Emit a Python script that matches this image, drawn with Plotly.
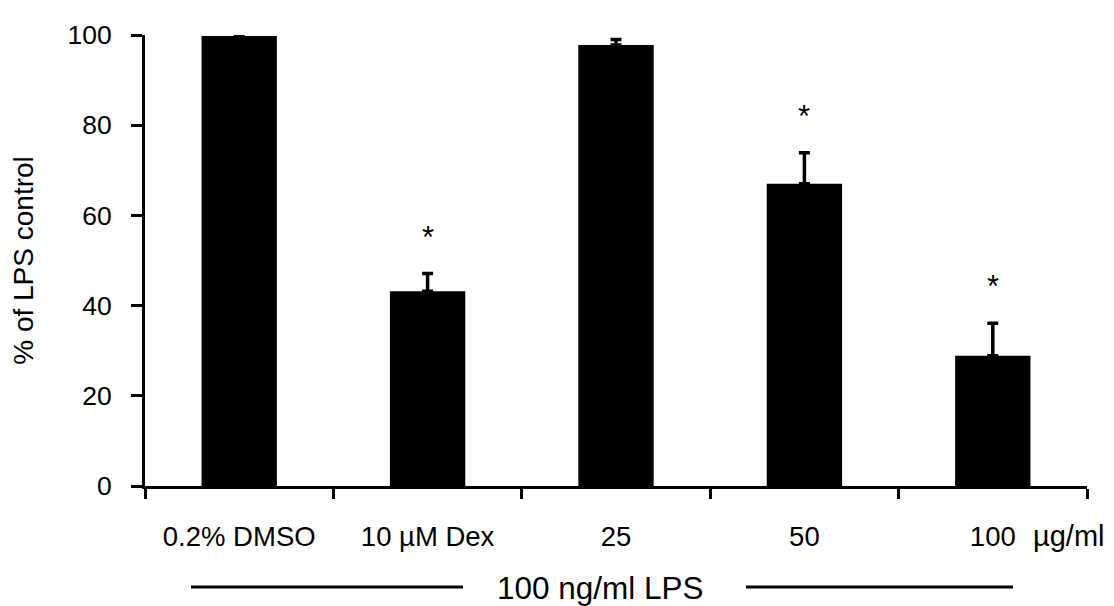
import plotly.graph_objects as go

categories = ["0.2% DMSO", "10 µM Dex", "25", "50", "100"]
values = [99.8, 43.2, 97.8, 67.0, 28.9]
errors = [0.2, 3.9, 1.2, 6.9, 7.2]
significant = [False, True, False, True, True]
y_ticks = [0, 20, 40, 60, 80, 100]

FONT = "Liberation Sans, Arial, sans-serif"

fig = go.Figure()
fig.add_trace(go.Bar(
    x=categories, y=values,
    marker=dict(color="black", line=dict(width=0)),
    width=0.4,
    error_y=dict(type="data", array=errors, arrayminus=[0]*len(errors), symmetric=False,
                 color="black", thickness=3.5, width=5.5),
))

for i, (v, e, s) in enumerate(zip(values, errors, significant)):
    if s:
        fig.add_annotation(x=i, y=v + e, xref="x", yref="y", text="*", showarrow=False,
                           yanchor="bottom", yshift=17,
                           font=dict(family=FONT, size=31, color="black"))

fig.add_annotation(x=1.0, xref="paper", xanchor="left", xshift=-56, y=0, yref="paper",
                   yanchor="middle", yshift=-50, text="µg/ml", showarrow=False,
                   font=dict(family=FONT, size=29, color="black"))
fig.add_annotation(x=0.5, xref="paper", xanchor="center", xshift=-16, y=0, yref="paper",
                   yanchor="middle", yshift=-102, text="100 ng/ml LPS", showarrow=False,
                   font=dict(family=FONT, size=31.5, color="black"))

line_y = -103 / 460
fig.add_shape(type="line", xref="x", yref="paper", x0=-0.256, x1=1.188, y0=line_y, y1=line_y,
              line=dict(color="black", width=3))
fig.add_shape(type="line", xref="x", yref="paper", x0=2.69, x1=4.107, y0=line_y, y1=line_y,
              line=dict(color="black", width=3))

fig.update_layout(
    width=1114, height=606,
    margin=dict(l=137, r=35, t=15, b=128),
    plot_bgcolor="white", paper_bgcolor="white",
    showlegend=False,
    font=dict(family=FONT, color="black"),
    xaxis=dict(type="category", range=[-0.5, 4.5], showline=True, linecolor="black", linewidth=3,
               ticks="outside", tickson="boundaries", ticklen=10, tickwidth=3, tickcolor="black",
               tickfont=dict(family=FONT, size=27.5, color="black"), ticklabelstandoff=24,
               showgrid=False, zeroline=False),
    yaxis=dict(range=[0, 100], tickvals=y_ticks, showline=True, linecolor="black", linewidth=3,
               ticks="outside", ticklen=11, tickwidth=3, tickcolor="black",
               tickfont=dict(family=FONT, size=26.5, color="black"), ticklabelstandoff=14,
               showgrid=False, zeroline=False,
               title=dict(text="% of LPS control", font=dict(family=FONT, size=28, color="black"),
                          standoff=28)),
)

fig.write_html("out.html")
